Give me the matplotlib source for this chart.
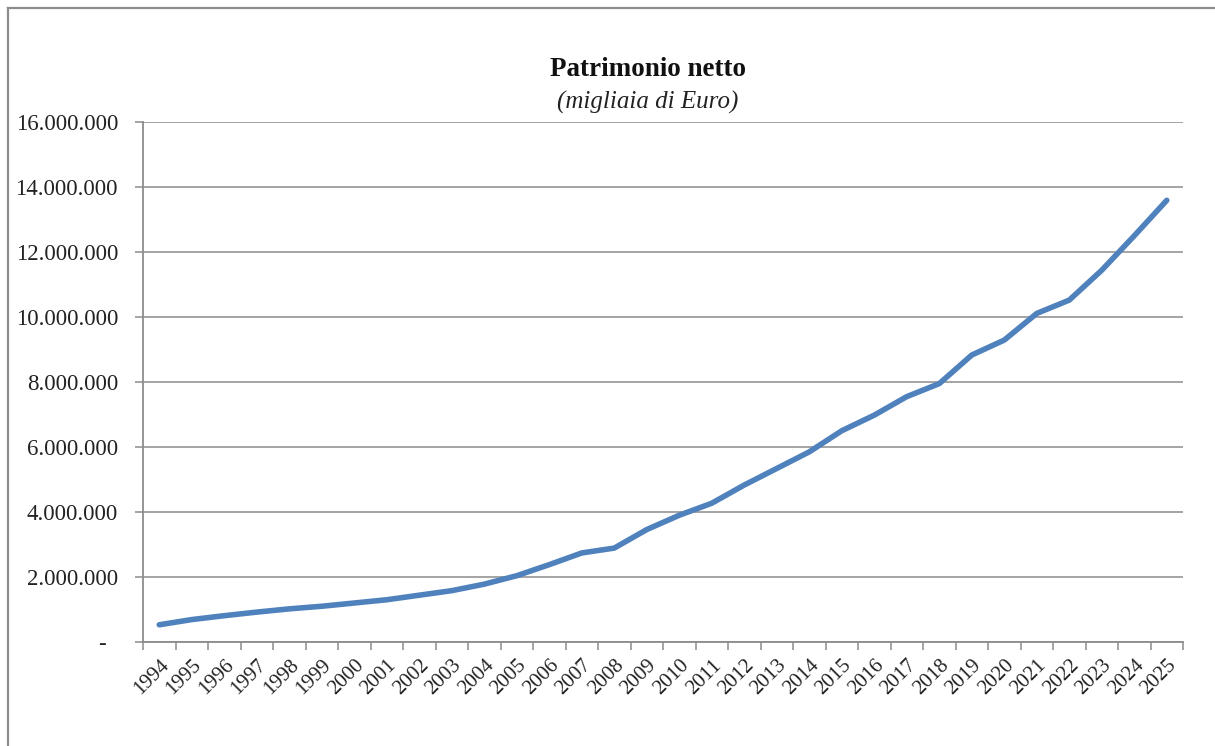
import matplotlib.pyplot as plt
from matplotlib.lines import Line2D
from matplotlib.ticker import FuncFormatter

# Data (migliaia di Euro).
years = [str(y) for y in range(1994, 2026)]
patrimonio = [
    530000, 690000, 810000, 920000, 1020000, 1100000, 1200000, 1300000,
    1440000, 1580000, 1780000, 2040000, 2380000, 2740000, 2890000, 3460000,
    3900000, 4270000, 4830000, 5340000, 5850000, 6500000, 6980000, 7550000,
    7950000, 8830000, 9290000, 10110000, 10520000, 11440000, 12500000, 13590000,
]
y_ticks = list(range(0, 16000001, 2000000))

plt.rcParams['font.family'] = ['Liberation Serif', 'DejaVu Serif']

fig = plt.figure(figsize=(12.15, 7.46), dpi=100)
ax = fig.add_axes([0.1177, 0.1394, 0.856, 0.6971])

x = list(range(len(years)))
ax.plot(x, patrimonio, color='#4F81BD', lw=4, solid_capstyle='round',
        solid_joinstyle='round', zorder=3)

ax.set_xlim(-0.5, len(years) - 0.5)
ax.set_ylim(0, 16000000)


def fmt(v, pos):
    # Excel accounting style: zero shown as a dash, dots as thousands separator
    if v == 0:
        return '-  '
    return '{:,.0f}'.format(v).replace(',', '.')


ax.set_yticks(y_ticks)
ax.yaxis.set_major_formatter(FuncFormatter(fmt))
ax.yaxis.grid(True, color='#8c8c8c', lw=1.1)
ax.set_axisbelow(True)

ax.set_xticks(x)
ax.set_xticklabels(years, rotation=45, ha='right', rotation_mode='anchor')
ax.set_xticks([i - 0.5 for i in range(len(years) + 1)], minor=True)
ax.tick_params(axis='x', which='major', length=0, pad=10, labelsize=15,
               colors='#222222')
ax.tick_params(axis='x', which='minor', length=6, width=1.1, color='#8c8c8c',
               direction='out')
ax.tick_params(axis='y', length=6, width=1.1, color='#8c8c8c', pad=12,
               labelsize=16.5, labelcolor='#222222')

for side in ['top', 'right']:
    ax.spines[side].set_visible(False)
for side in ['left', 'bottom']:
    ax.spines[side].set_color('#8c8c8c')
    ax.spines[side].set_linewidth(1.3)

fig.text(0.533, 0.907, 'Patrimonio netto', ha='center', va='center',
         fontsize=19.5, fontweight='bold', color='#111111')
fig.text(0.533, 0.862, '(migliaia di Euro)', ha='center', va='center',
         fontsize=18, style='italic', color='#222222')

# Outer chart border (left and top edges visible).
fig.add_artist(Line2D([8 / 1215, 8 / 1215], [0, 1 - 8 / 746],
                      transform=fig.transFigure, color='#8c8c8c', lw=1.6))
fig.add_artist(Line2D([8 / 1215, 1], [1 - 8 / 746, 1 - 8 / 746],
                      transform=fig.transFigure, color='#8c8c8c', lw=1.6))

fig.savefig('out.png', dpi=100, facecolor='white')
